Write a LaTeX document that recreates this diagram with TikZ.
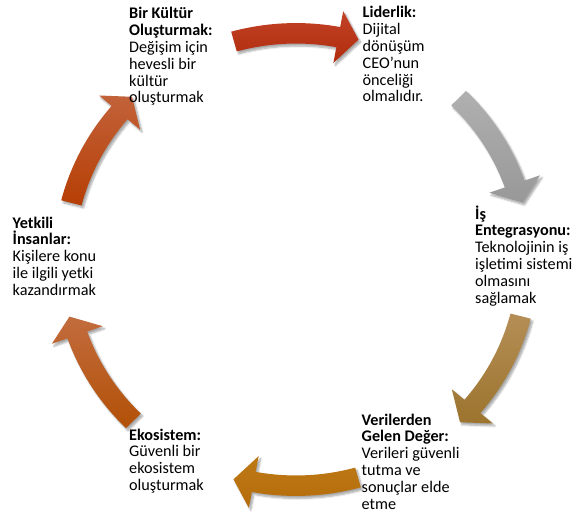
\documentclass[tikz,border=0pt]{standalone}
\usepackage{fontspec}
\setmainfont{Carlito}
\usetikzlibrary{shadows.blur}
% arrow fills: lighter upper tone, deeper lower tone
\definecolor{redTop}{RGB}{194,66,38}
\definecolor{redBot}{RGB}{176,44,12}
\definecolor{greyTop}{RGB}{176,176,176}
\definecolor{greyBot}{RGB}{152,152,152}
\definecolor{goldTop}{RGB}{180,142,86}
\definecolor{goldBot}{RGB}{156,116,46}
\definecolor{ochreTop}{RGB}{190,122,24}
\definecolor{ochreBot}{RGB}{180,108,8}
\definecolor{rustTop}{RGB}{194,108,62}
\definecolor{rustBot}{RGB}{178,80,6}
\definecolor{brickTop}{RGB}{194,98,58}
\definecolor{brickBot}{RGB}{182,62,4}
\begin{document}
\begin{tikzpicture}[x=1pt,y=1pt,
  % blocks are placed by the baseline of their last line
  blocktext/.style={anchor=base west, align=left, inner sep=0pt,
    font=\fontsize{16.2}{16.8}\selectfont},
  cyclearrow/.style={blur shadow={shadow xshift=2pt, shadow yshift=-2.5pt,
    shadow blur steps=6, shadow opacity=35}}]
\useasboundingbox (0,0) rectangle (575,-513);

% six curved block arrows running clockwise round the cycle
\begin{scope}[shift={(296,-259.5)}, yscale=0.975]
\foreach \c/\tc/\bc in {90/redTop/redBot, 30/greyTop/greyBot,
    -30/goldTop/goldBot, -90/ochreTop/ochreBot,
    -150/rustTop/rustBot, 150/brickTop/brickBot} {
  \pgfmathsetmacro\ta{\c+15.5}
  \pgfmathsetmacro\hb{\c-10.5}
  \pgfmathsetmacro\tp{\c-15.5}
  \path[cyclearrow, top color=\tc, bottom color=\bc]
    (\ta:242.5) arc[start angle=\ta, end angle=\hb, radius=242.5]
    -- (\hb:259) -- (\tp:234) -- (\hb:205) -- (\hb:221.5)
    arc[start angle=\hb, end angle=\ta, radius=221.5] -- cycle;
}
\end{scope}

% step texts
\node[blocktext] (kultur) at (129,-103)
  {\textbf{Bir Kültür}\\\textbf{Oluşturmak:}\\Değişim için\\hevesli bir\\kültür\\oluşturmak};
\node[blocktext] (liderlik) at (362.5,-102)
  {\textbf{Liderlik:}\\Dijital\\dönüşüm\\CEO’nun\\önceliği\\olmalıdır.};
\node[blocktext] (entegrasyon) at (475,-303)
  {\textbf{İş}\\\textbf{Entegrasyonu:}\\Teknolojinin iş\\işletimi sistemi\\olmasını\\sağlamak};
\node[blocktext] (deger) at (361.5,-509)
  {\textbf{Verilerden}\\\textbf{Gelen Değer:}\\Verileri güvenli\\tutma ve\\sonuçlar elde\\etme};
\node[blocktext] (ekosistem) at (129,-490.4)
  {\textbf{Ekosistem:}\\Güvenli bir\\ekosistem\\oluşturmak};
\node[blocktext] (yetkili) at (12.5,-295.2)
  {\textbf{Yetkili}\\\textbf{İnsanlar:}\\Kişilere konu\\ile ilgili yetki\\kazandırmak};
\end{tikzpicture}
\end{document}
